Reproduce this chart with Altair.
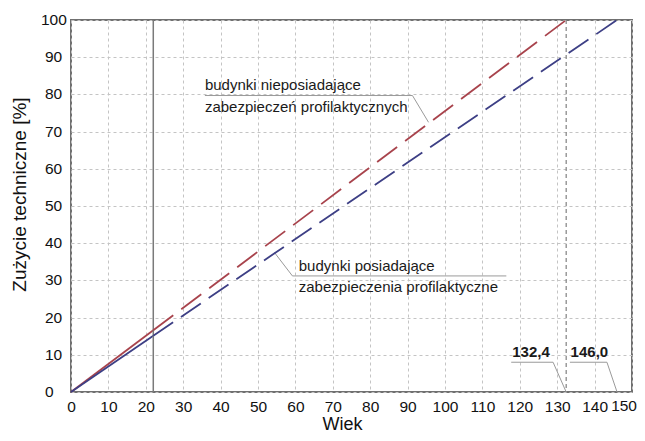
import altair as alt
import pandas as pd

# --- data ---
series = ["nieposiadające", "posiadające"]
break_x = 22
red_x = [0, 22, 132.4]
red_y = [0, 16.6, 100]
blue_x = [0, 22, 146.0]
blue_y = [0, 15.1, 100]
x_ticks = [0, 10, 20, 30, 40, 50, 60, 70, 80, 90, 100, 110, 120, 130, 140]
x_last_tick = [150]
y_ticks = [0, 10, 20, 30, 40, 50, 60, 70, 80, 90]
y_top_tick = [100]
marker_x = [132.4]

label_texts = ["budynki nieposiadające", "zabezpieczeń profilaktycznych",
               "budynki posiadające", "zabezpieczenia profilaktyczne"]
label_x = [35.8, 35.8, 60.9, 60.9]
label_y = [81.3, 75.2, 32.6, 26.9]

value_texts = ["132,4", "146,0"]
value_x = [123.0, 138.6]
value_y = [9.3, 9.3]

lead_x = [35.8, 91.3, 59.2, 59.2, 117.7, 128.9, 133.4, 143.3]
lead_y = [79.7, 79.7, 31.2, 31.2, 8.0, 8.0, 8.0, 8.0]
lead_x2 = [91.3, 95.6, 116.4, 54.4, 128.9, 132.4, 143.3, 146.0]
lead_y2 = [79.7, 72.5, 31.2, 37.5, 8.0, 0.0, 8.0, 0.0]

# --- tables ---
solid = pd.DataFrame({
    "series": [series[0]] * 2 + [series[1]] * 2,
    "x": red_x[:2] + blue_x[:2],
    "y": red_y[:2] + blue_y[:2],
})
dashed_red = pd.DataFrame({"series": [series[0]] * 2, "x": red_x[1:], "y": red_y[1:]})
dashed_blue = pd.DataFrame({"series": [series[1]] * 2, "x": blue_x[1:], "y": blue_y[1:]})
labels = pd.DataFrame({"x": label_x, "y": label_y, "t": label_texts})
values = pd.DataFrame({"x": value_x, "y": value_y, "t": value_texts})
leads = pd.DataFrame({"x": lead_x, "y": lead_y, "x2": lead_x2, "y2": lead_y2})
ylab = pd.DataFrame({"y": y_ticks})
ylab_top = pd.DataFrame({"y": y_top_tick})
xlab_last = pd.DataFrame({"x": x_last_tick})

W, H = 561, 372

xs = alt.Scale(domain=[0, 150], nice=False, zero=False)
ys = alt.Scale(domain=[0, 100], nice=False, zero=False)
cs = alt.Scale(domain=series, range=["#a8434c", "#3d3f85"])

x_axis = alt.Axis(values=x_ticks + x_last_tick, title="Wiek", grid=True, gridColor="#c4c4c4",
                  gridDash=[3, 3], gridWidth=1, ticks=False, domain=False,
                  labelOverlap=False, labelFlush=False,
                  labelExpr="datum.value == 150 ? '' : datum.label",
                  labelFontSize=15.5, labelColor="#111", labelPadding=7,
                  titleFontSize=18, titleFontWeight="normal", titleColor="#111",
                  titleX=271, titleY=37, titleBaseline="alphabetic", titleAlign="center")
y_axis = alt.Axis(values=y_ticks + y_top_tick, title="Zużycie techniczne [%]", grid=True,
                  gridColor="#c4c4c4", gridDash=[3, 3], gridWidth=1, ticks=False,
                  domain=False, labels=False,
                  titleFontSize=19, titleFontWeight="normal", titleColor="#111",
                  titleX=-46, titleY=174, titleAngle=270, titleBaseline="alphabetic",
                  titleAlign="center")

X = alt.X("x:Q", scale=xs, axis=x_axis)
Y = alt.Y("y:Q", scale=ys, axis=y_axis)
C = alt.Color("series:N", scale=cs, legend=None)

base_solid = alt.Chart(solid).mark_line(strokeWidth=1.8).encode(
    x=X, y=Y, color=C, detail="series:N")
red_dashed = alt.Chart(dashed_red).mark_line(strokeWidth=1.8, strokeDash=[25, 10]).encode(
    x=X, y=Y, color=C)
blue_dashed = alt.Chart(dashed_blue).mark_line(strokeWidth=1.8, strokeDash=[24, 9.5]).encode(
    x=X, y=Y, color=C)
vline = alt.Chart(pd.DataFrame({"x": [break_x]})).mark_rule(
    color="#7a7a7a", strokeWidth=1.5).encode(x=X)
mline = alt.Chart(pd.DataFrame({"x": marker_x})).mark_rule(
    color="#808080", strokeWidth=1.2, strokeDash=[4, 3]).encode(x=X)
lead_rules = alt.Chart(leads).mark_rule(color="#9a9a9a", strokeWidth=1).encode(
    x=X, y=Y, x2="x2:Q", y2="y2:Q")
label_marks = alt.Chart(labels).mark_text(
    align="left", baseline="alphabetic", fontSize=15, color="#1a1a1a").encode(
    x=X, y=Y, text="t:N")
value_marks = alt.Chart(values).mark_text(
    align="center", baseline="alphabetic", fontSize=15, fontWeight="bold",
    color="#1a1a1a").encode(
    x=X, y=Y, text="t:N")
ytick_labels = alt.Chart(ylab).mark_text(
    align="left", baseline="middle", fontSize=15.5, color="#111").encode(
    x=alt.value(-26), y=Y, text="y:Q")
ytick_top = alt.Chart(ylab_top).mark_text(
    align="left", baseline="middle", fontSize=15.5, color="#111").encode(
    x=alt.value(-30), y=Y, text="y:Q")
xtick_last = alt.Chart(xlab_last).mark_text(
    align="right", baseline="top", fontSize=15.5, color="#111", dx=5).encode(
    x=X, y=alt.value(H + 7), text="x:Q")

chart = alt.layer(
    base_solid, vline, mline, lead_rules, red_dashed, blue_dashed, label_marks,
    value_marks, ytick_labels, ytick_top, xtick_last
).properties(
    width=W, height=H,
    autosize=alt.AutoSizeParams(type="none"),
    padding={"left": 63, "top": 12, "right": 5, "bottom": 41},
).configure(font="Liberation Sans").configure_view(
    stroke="#707070", strokeWidth=2
)

chart.save("out.html", embed_options={"renderer": "svg", "actions": False})
